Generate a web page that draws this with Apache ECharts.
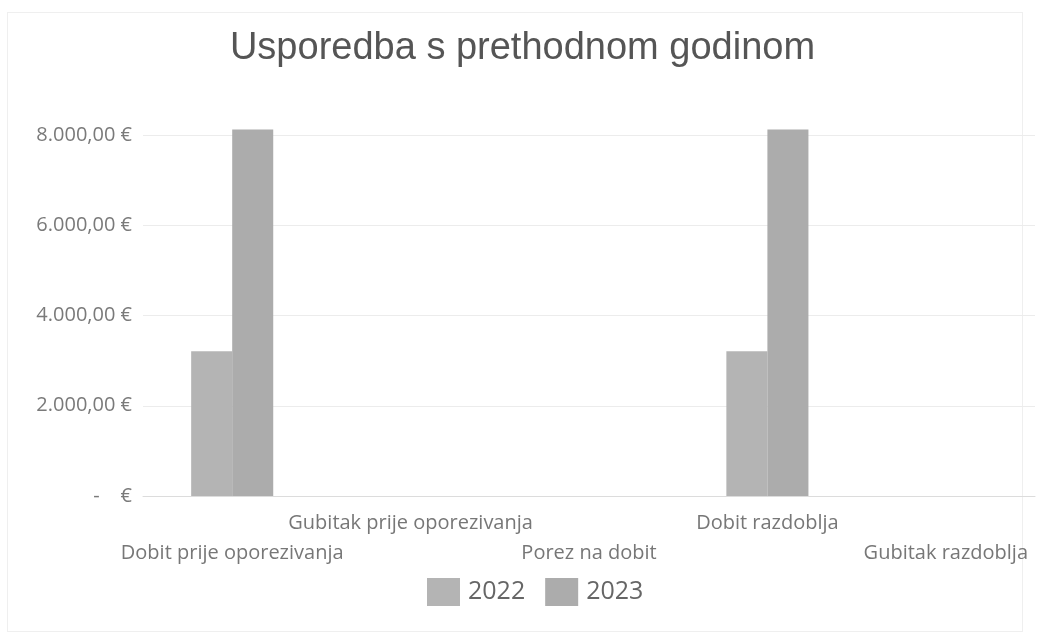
<!DOCTYPE html>
<html>
<head>
<meta charset="utf-8">
<script src="https://cdn.jsdelivr.net/npm/echarts@6/dist/echarts.min.js"></script>
<style>
html,body{margin:0;padding:0;background:#fff;}
#frame{position:absolute;left:7px;top:12px;width:1016px;height:620px;border:1px solid #efefef;box-sizing:border-box;}
#chart{position:absolute;left:0;top:0;width:1045px;height:637px;}
</style>
</head>
<body>
<div id="frame"></div>
<div id="chart"></div>
<script>
const titleText = 'Usporedba s prethodnom godinom';
const categories = ['Dobit prije oporezivanja', 'Gubitak prije oporezivanja', 'Porez na dobit', 'Dobit razdoblja', 'Gubitak razdoblja'];
const seriesNames = ['2022', '2023'];
const values2022 = [3210, 0, 0, 3210, 0];
const values2023 = [8120, 0, 0, 8120, 0];
const yTicks = [0, 2000, 4000, 6000, 8000];

function fmtEuro(v) {
  if (v === 0) return '-    €';
  const s = Math.round(v).toString().replace(/\B(?=(\d{3})+(?!\d))/g, '.');
  return s + ',00 €';
}

const chart = echarts.init(document.getElementById('chart'));
chart.setOption({
  backgroundColor: 'transparent',
  animation: false,
  title: {
    text: titleText,
    left: 'center',
    top: 25,
    textStyle: { fontFamily: 'Liberation Sans, Arial, sans-serif', fontSize: 38, fontWeight: 'normal', color: '#555555' }
  },
  legend: {
    data: seriesNames,
    bottom: 26,
    left: 422,
    icon: 'rect',
    itemWidth: 33,
    itemHeight: 28,
    itemGap: 20,
    textStyle: { fontFamily: 'Open Sans, sans-serif', fontSize: 25, color: '#666666', padding: [0, 0, 0, 3] }
  },
  grid: { left: 143, right: 10, top: 135, bottom: 141, containLabel: false },
  xAxis: {
    type: 'category',
    data: categories,
    axisTick: { show: false },
    axisLine: { lineStyle: { color: '#dcdcdc' } },
    axisLabel: {
      interval: 0,
      margin: 12,
      fontFamily: 'Open Sans, sans-serif',
      fontSize: 20,
      color: '#777',
      lineHeight: 30,
      formatter: function (v, i) { return i % 2 === 0 ? '\n' + v : v; }
    }
  },
  yAxis: {
    type: 'value',
    min: yTicks[0],
    max: yTicks[yTicks.length - 1],
    interval: 2000,
    axisLine: { show: false },
    axisTick: { show: false },
    splitLine: { lineStyle: { color: '#ececec' } },
    axisLabel: {
      margin: 11,
      fontFamily: 'Open Sans, sans-serif',
      fontSize: 20,
      color: '#7a7a7a',
      formatter: fmtEuro
    }
  },
  series: [
    { name: seriesNames[0], type: 'bar', data: values2022, barGap: '0%', barCategoryGap: '54%', clip: false, itemStyle: { color: '#b4b4b4' } },
    { name: seriesNames[1], type: 'bar', data: values2023, barGap: '0%', barCategoryGap: '54%', clip: false, itemStyle: { color: '#acacac' } }
  ]
});
</script>
</body>
</html>
